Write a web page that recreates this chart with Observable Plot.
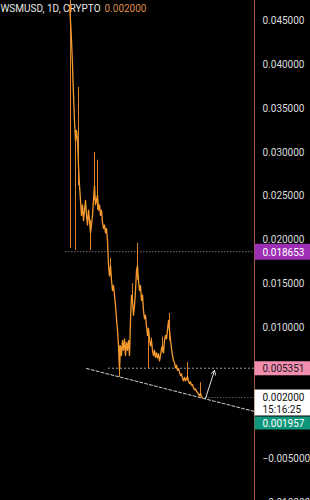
<!DOCTYPE html>
<html><head><meta charset="utf-8">
<script src="https://cdn.jsdelivr.net/npm/d3@7"></script>
<script src="https://cdn.jsdelivr.net/npm/@observablehq/plot@0.6"></script>
<style>
html,body{margin:0;padding:0;background:#000;overflow:hidden}
#chart svg{display:block}
</style></head><body><div id="chart"></div>
<script>
const symbolTitle = "WSMUSD, 1D, CRYPTO";
const lastPrice = 0.002;
// daily closes, day 0 = first listed day
const closes = [
0.0468,0.0450,0.0428,0.0399,0.0365,0.0336,0.0313,0.0325,0.0313,0.0285,
0.0262,0.0245,0.0228,0.0240,0.0222,0.0234,0.0245,0.0228,0.0217,0.0234,
0.0222,0.0208,0.0217,0.0228,0.0245,0.0262,0.0240,0.0245,0.0251,0.0234,
0.0240,0.0228,0.0234,0.0220,0.0213,0.0217,0.0208,0.0213,0.0199,0.0171,
0.0159,0.0171,0.0154,0.0142,0.0148,0.0137,0.0125,0.0110,0.0097,0.0079,
0.0051,0.0079,0.0068,0.0085,0.0074,0.0087,0.0068,0.0083,0.0074,0.0085,
0.0068,0.0108,0.0137,0.0131,0.0114,0.0125,0.0142,0.0165,0.0171,0.0154,
0.0142,0.0148,0.0131,0.0137,0.0119,0.0110,0.0114,0.0102,0.0091,0.0099,
0.0087,0.0079,0.0085,0.0074,0.0068,0.0074,0.0066,0.0071,0.0065,0.0070,
0.0062,0.0068,0.0076,0.0079,0.0071,0.0085,0.0091,0.0087,0.0097,0.0108,
0.0097,0.0085,0.0076,0.0068,0.0062,0.0060,0.0054,0.0057,0.0051,0.0053,
0.0049,0.0045,0.0047,0.0042,0.0039,0.0043,0.0039,0.0042,0.0044,0.0039,
0.0036,0.0038,0.0034,0.0035,0.0031,0.0029,0.0030,0.0027,0.0026,0.0024,
0.0022,0.0025,0.0021,0.0020
];
// [day, low, high]
const wicks = [
[1,0.0190,0.0480],[6,0.0188,0.0325],[9,0.0262,0.0374],[21,0.0188,0.0222],
[25,0.0245,0.0300],[28,0.0234,0.0291],[41,0.0159,0.0179],[50,0.0043,0.0079],
[63,0.0131,0.0150],[68,0.0154,0.0196],[79,0.0053,0.0099],[82,0.0079,0.0088],
[93,0.0071,0.0089],[100,0.0085,0.0116],[118,0.0039,0.0060],[131,0.0021,0.0037]
];
const yTicks = [0.045,0.04,0.035,0.03,0.025,0.02,0.015,0.01,-0.005,-0.01];
const levelValues = [0.018653, 0.005351, 0.002];
const levelStartDays = [-4, 39, 136];
const trendDays = [17, 185];
const trendValues = [0.00532, 0.00041];
const arrowDays = [136, 145];
const arrowValues = [0.0019, 0.0051];
const labelValues = [0.018653, 0.005351, 0.002, 0.001957];
const labelTexts = ["0.018653", "0.005351", "0.002000\n15:16:25", "0.001957"];

const fmt = d3.format(".6f");
const lastDay = 185;
const labelFills = ["#9c2fb3", "#f28db0", "#ffffff", "#0f977c"];
const labelInk = ["#ffffff", "#1a1a1a", "#111111", "#ffffff"];
const labelHeights = [16, 14, 26, 13];
const labelBoxDy = [0, 0, 5, 25];
const labelTextDy = [0, 0, 6, 25];
const orange = "#f59a2f";

const marks = [
  Plot.text([symbolTitle], {frameAnchor:"top-left", textAnchor:"start", lineAnchor:"top", dy:4, fill:"#e8e8e8", fontSize:10}),
  Plot.text([lastPrice], {frameAnchor:"top-left", textAnchor:"start", lineAnchor:"top", dy:4, dx:104, text:d=>fmt(d), fill:"#dc8a4c", fontSize:10}),
  Plot.ruleY([levelValues[0]], {y:d=>d, x1:levelStartDays[0], x2:lastDay, stroke:"#6a6a6a", strokeDasharray:"1.5,1.5"}),
  Plot.ruleY([levelValues[1]], {y:d=>d, x1:levelStartDays[1], x2:lastDay, stroke:"#9a9a9a", strokeDasharray:"2,2"}),
  Plot.ruleY([levelValues[2]], {y:d=>d, x1:levelStartDays[2], x2:lastDay, stroke:"#5a5a5a", strokeDasharray:"1.5,1.5"}),
  Plot.line(trendDays.map((d,i)=>[d, trendValues[i]]), {x:d=>d[0], y:d=>d[1], stroke:"#d0d0d0", strokeDasharray:"3,2", strokeWidth:1}),
  Plot.ruleX(wicks, {x:d=>d[0], y1:d=>d[1], y2:d=>d[2], stroke:"#d9832b", strokeWidth:1}),
  Plot.line(closes, {x:(d,i)=>i, y:d=>d, stroke:orange, strokeWidth:1.3}),
  Plot.arrow([0], {x1:()=>arrowDays[0], y1:()=>arrowValues[0], x2:()=>arrowDays[1], y2:()=>arrowValues[1], stroke:"#e6e6e6", strokeWidth:1, headLength:7}),
  Plot.ruleX([lastDay], {stroke:"#a3582f", strokeWidth:1}),
  Plot.axisY(yTicks, {anchor:"right", tickSize:0, tickPadding:8, tickFormat:fmt, fill:"#dcdcdc", fontSize:10}),
];
labelValues.forEach((v,i) => {
  marks.push(Plot.ruleY([v], {y:d=>d, x1:lastDay+0.5, x2:lastDay+56, stroke:labelFills[i], strokeWidth:labelHeights[i], dy:labelBoxDy[i]}));
  marks.push(Plot.text([v], {x:lastDay+8, y:d=>d, text:()=>labelTexts[i], fill:labelInk[i], textAnchor:"start", dy:labelTextDy[i], lineHeight:1.2, fontSize:10}));
});

const chart = Plot.plot({
  width:310, height:500,
  marginLeft:0, marginRight:56, marginTop:0, marginBottom:0,
  style:{background:"#000", fontFamily:"Roboto, sans-serif", fontSize:"10px", color:"#dcdcdc"},
  x:{domain:[0,lastDay], range:[69,254], axis:null},
  y:{domain:[-0.01,0.045], range:[502.2,20.4], axis:null},
  marks
});
document.getElementById("chart").appendChild(chart);
</script></body></html>
